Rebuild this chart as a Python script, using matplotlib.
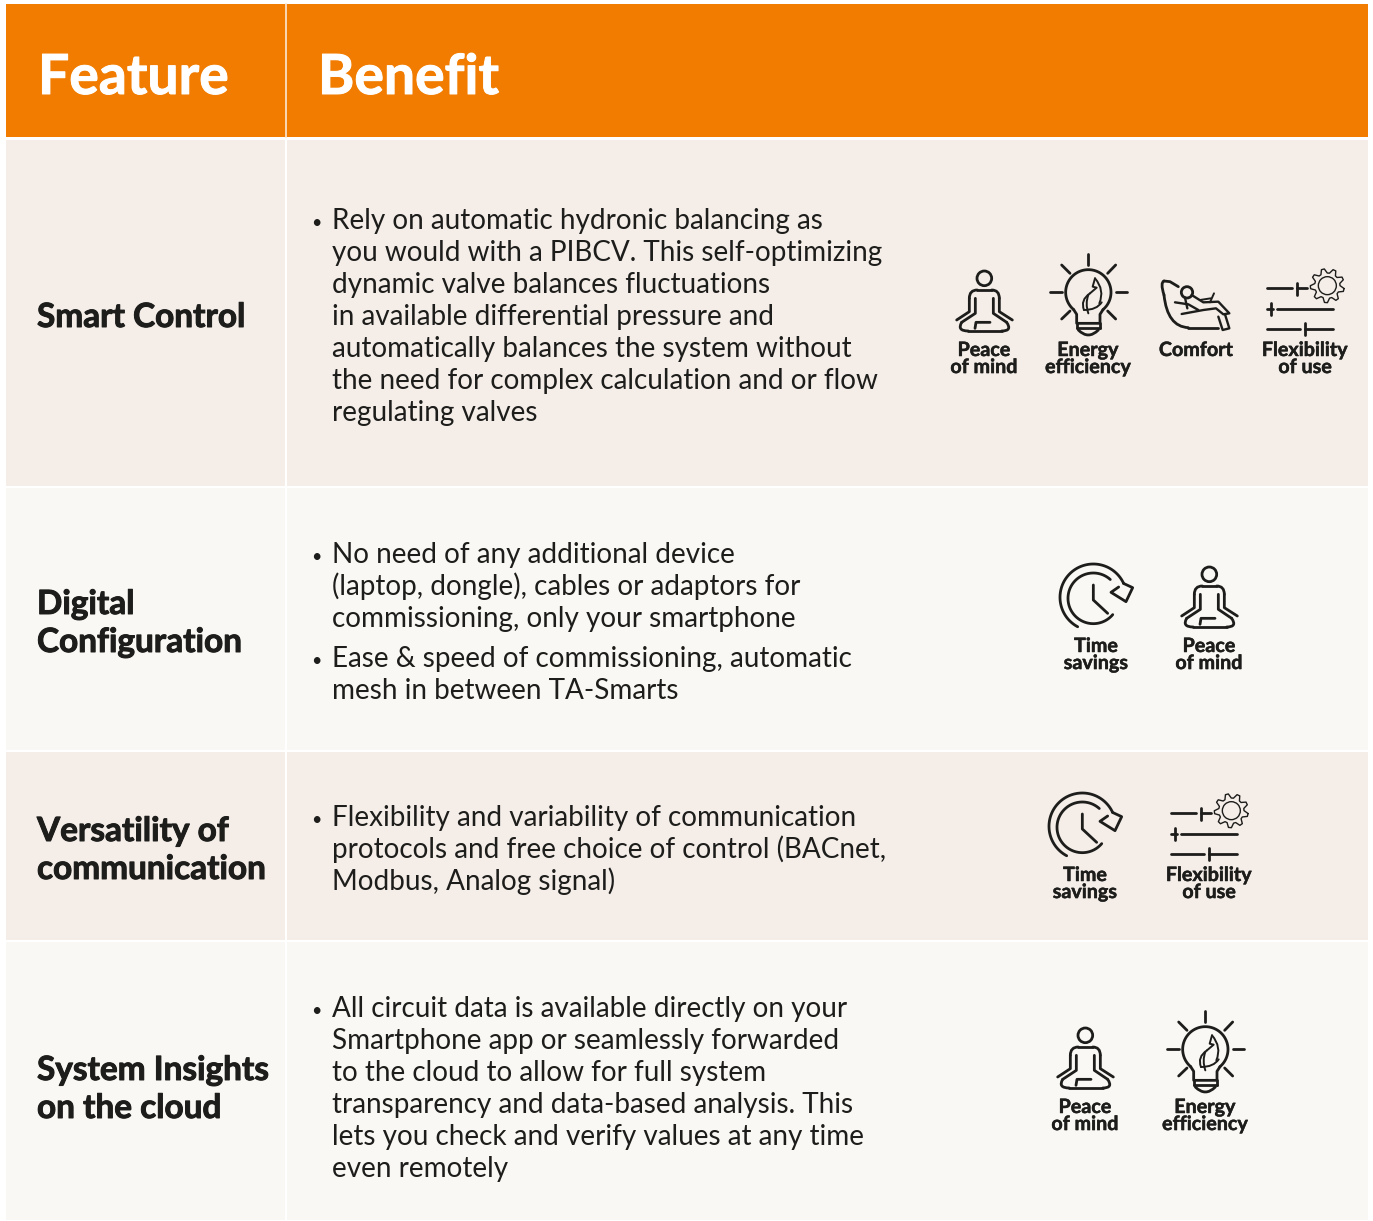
import numpy as np
import matplotlib
matplotlib.use("Agg")
import matplotlib.pyplot as plt
import matplotlib.patheffects as pe
from matplotlib.patches import Rectangle, Circle, PathPatch
from matplotlib.path import Path

W, H = 1373, 1221
ORANGE = "#F17C00"; ROW_A = "#F4EDE8"; ROW_B = "#FAF8F4"; INK = "#1D1D1B"
FONT = "Lato"

headers = ["Feature", "Benefit"]
feature_lines = [["Smart Control"], ["Digital", "Configuration"],
                 ["Versatility of", "communication"], ["System Insights", "on the cloud"]]
feature_baselines = [[327], [614, 652], [841, 879], [1080, 1118]]
benefit_bullets = [
    [["Rely on automatic hydronic balancing as", "you would with a PIBCV. This self-optimizing",
      "dynamic valve balances fluctuations", "in available differential pressure and",
      "automatically balances the system without", "the need for complex calculation and or flow",
      "regulating valves"]],
    [["No need of any additional device", "(laptop, dongle), cables or adaptors for",
      "commissioning, only your smartphone"],
     ["Ease & speed of commissioning, automatic", "mesh in between TA-Smarts"]],
    [["Flexibility and variability of communication", "protocols and free choice of control (BACnet,",
      "Modbus, Analog signal)"]],
    [["All circuit data is available directly on your", "Smartphone app or seamlessly forwarded",
      "to the cloud to allow for full system", "transparency and data-based analysis. This",
      "lets you check and verify values at any time", "even remotely"]],
]
bullet_baselines = [[229], [563, 667], [826], [1017]]
row_bounds = [(140, 486), (488, 750), (752, 940), (942, 1220)]
row_colors = [ROW_A, ROW_B, ROW_A, ROW_B]

labels = {"peace": ["Peace", "of mind"], "energy": ["Energy", "efficiency"],
          "comfort": ["Comfort"], "flex": ["Flexibility", "of use"], "time": ["Time", "savings"]}
# icon kind, label centre x, first label baseline
icon_rows = [("peace", 984, 356), ("energy", 1088, 356), ("comfort", 1196, 356), ("flex", 1305, 356),
             ("time", 1096, 652), ("peace", 1209, 652),
             ("time", 1085, 881), ("flex", 1209, 881),
             ("peace", 1085, 1113), ("energy", 1205, 1113)]

fig = plt.figure(figsize=(W / 100, H / 100), dpi=100, facecolor="white")
ax = fig.add_axes([0, 0, 1, 1])
ax.set_xlim(0, W); ax.set_ylim(H, 0); ax.axis("off")

ax.add_patch(Rectangle((6, 4), 1362, 133, fc=ORANGE, ec="none"))
ax.plot([286, 286], [4, 137], color="#FBE9D5", lw=1.2)
for (y0, y1), c in zip(row_bounds, row_colors):
    ax.add_patch(Rectangle((6, y0), 279, y1 - y0, fc=c, ec="none"))
    ax.add_patch(Rectangle((287, y0), 1081, y1 - y0, fc=c, ec="none"))


def heavy(color, w):
    return [pe.withStroke(linewidth=w, foreground=color)]


for name, x in zip(headers, (38, 318)):
    ax.text(x, 94, name, color="white", fontsize=39.8, fontfamily=FONT, fontweight="bold", va="baseline",
            path_effects=heavy("white", 0.7))

for lines, bases in zip(feature_lines, feature_baselines):
    for s, b in zip(lines, bases):
        ax.text(37, b, s, color=INK, fontsize=24, fontfamily=FONT, fontweight="bold", va="baseline",
                path_effects=heavy(INK, 0.7))

for bullets, starts in zip(benefit_bullets, bullet_baselines):
    for lines, start in zip(bullets, starts):
        ax.text(311, start - 1, "\u2022", color=INK, fontsize=13, fontfamily=FONT, va="baseline")
        for i, s in enumerate(lines):
            ax.text(332, start + 32 * i, s, color=INK, fontsize=20.1, fontfamily=FONT, va="baseline")


LW = 2.0


def stroke(pts, ox, oy, lw=LW, curve=False):
    p = np.asarray(pts, float) / 3
    if curve:
        codes = [Path.MOVETO] + [Path.CURVE3] * (len(p) - 1)
        ax.add_patch(PathPatch(Path(p + (ox, oy), codes), fc="none", ec=INK, lw=lw, capstyle="round", joinstyle="round"))
    else:
        ax.plot(p[:, 0] + ox, p[:, 1] + oy, color=INK, lw=lw, solid_capstyle="round", solid_joinstyle="round")


def circle(c, r, ox, oy, lw=LW):
    ax.add_patch(Circle((c[0] / 3 + ox, c[1] / 3 + oy), r / 3, fc="none", ec=INK, lw=lw))


def arc(c, r, a0, a1, ox, oy, lw=LW):
    t = np.radians(np.linspace(a0, a1, 80))
    stroke(np.c_[c[0] + r * np.cos(t), c[1] + r * np.sin(t)], ox, oy, lw)


def peace(ox, oy):
    circle((133, 100), 22, ox, oy)
    stroke([(50, 225), (88, 200), (88, 160)], ox, oy)
    stroke([(88, 160), (88, 135), (112, 135)], ox, oy, curve=True)
    stroke([(112, 135), (155, 135)], ox, oy)
    stroke([(155, 135), (178, 135), (178, 160)], ox, oy, curve=True)
    stroke([(178, 160), (178, 200), (217, 225)], ox, oy)
    stroke([(106, 160), (106, 205), (65, 232)], ox, oy)
    stroke([(65, 232), (50, 258), (85, 258)], ox, oy, curve=True)
    stroke([(85, 258), (185, 258)], ox, oy)
    stroke([(185, 258), (218, 258), (200, 232)], ox, oy, curve=True)
    stroke([(200, 232), (160, 205), (160, 160)], ox, oy)
    stroke([(105, 250), (108, 232), (150, 232)], ox, oy)


def energy(ox, oy):
    arc((445, 142), 68, 130, 410, ox, oy)
    stroke([(401, 194), (410, 208), (410, 235), (480, 235), (480, 208), (489, 194)], ox, oy)
    stroke([(410, 250), (480, 250)], ox, oy)
    stroke([(410, 235), (410, 250)], ox, oy)
    stroke([(480, 235), (480, 250)], ox, oy)
    stroke([(415, 255), (445, 285), (475, 255)], ox, oy, curve=True)
    for seg in [[(445, 28), (445, 60)], [(365, 60), (390, 85)], [(527, 60), (503, 85)],
                [(330, 142), (365, 142)], [(527, 142), (562, 142)],
                [(365, 222), (390, 198)], [(527, 222), (503, 198)]]:
        stroke(seg, ox, oy)
    stroke([(465, 100), (495, 135), (478, 175)], ox, oy, lw=1.4, curve=True)
    stroke([(465, 100), (458, 125), (470, 128), (450, 145)], ox, oy, lw=1.4)
    stroke([(450, 145), (420, 165), (432, 195)], ox, oy, lw=1.4, curve=True)
    stroke([(432, 195), (470, 195), (485, 172)], ox, oy, lw=1.4, curve=True)
    stroke([(445, 150), (435, 175), (445, 205)], ox, oy, lw=1.4, curve=True)


def comfort(ox, oy):
    stroke([(715, 125), (690, 110), (672, 108)], ox, oy)
    stroke([(672, 108), (660, 112), (672, 150)], ox, oy, curve=True)
    stroke([(672, 150), (682, 245), (745, 248)], ox, oy, curve=True)
    stroke([(745, 248), (835, 248)], ox, oy)
    circle((741, 142), 17, ox, oy)
    stroke([(755, 150), (790, 172), (835, 170), (868, 205), (850, 208), (828, 190), (790, 195), (725, 207)], ox, oy, lw=1.7)
    stroke([(705, 172), (745, 178), (775, 195)], ox, oy, lw=1.7)
    stroke([(735, 158), (742, 190)], ox, oy, lw=1.7)
    stroke([(835, 215), (848, 255), (868, 250), (855, 208)], ox, oy, lw=1.7)
    stroke([(810, 172), (822, 145)], ox, oy, lw=1.4)
    stroke([(780, 165), (812, 160)], ox, oy, lw=1.4)


def flex(ox, oy):
    for seg in [[(980, 130), (1055, 130)], [(1072, 115), (1072, 150)], [(1072, 130), (1100, 130)],
                [(980, 192), (1000, 192)], [(993, 175), (993, 210)], [(1010, 192), (1178, 192)],
                [(980, 252), (1080, 252)], [(1095, 235), (1095, 270)], [(1095, 252), (1178, 252)]]:
        stroke(seg, ox, oy)
    c = np.array((1162, 122))
    circle(c, 27, ox, oy, lw=1.0)
    n = 9
    ang = np.linspace(0, 2 * np.pi, n * 4, endpoint=False) + 0.17
    rad = np.tile([51, 51, 38, 38], n)
    pts = np.c_[c[0] + rad * np.cos(ang), c[1] + rad * np.sin(ang)]
    stroke(np.r_[pts, pts[:1]], ox, oy, lw=1.0)


def clock(ox, oy):
    arc((160, 130), 76, 40, 312, ox, oy)
    arc((160, 127), 100, 118, 335, ox, oy)
    stroke([(250, 85), (278, 98), (258, 140), (213, 112), (236, 96)], ox, oy)
    stroke([(160, 90), (160, 135), (203, 175)], ox, oy)


def draw_icon(kind, cx, base):
    y = base - 356
    if kind == "peace":
        peace(940 + cx - 984, 245 + y)
    elif kind == "energy":
        energy(940 + cx - 1088, 245 + y)
    elif kind == "comfort":
        comfort(940 + cx - 1196, 245 + y)
    elif kind == "flex":
        flex(940 + cx - 1305, 245 + y)
    else:
        clock(1040 + cx - 1096, 555 + base - 652)


for kind, cx, base in icon_rows:
    draw_icon(kind, cx, base)
    ax.annotate("\n".join(labels[kind]), (cx, base), color=INK, fontsize=14.2, fontfamily=FONT,
                fontweight="bold", ha="center", va="top", ma="center", linespacing=0.815,
                xytext=(0, 16 * 72 / 100), textcoords="offset points",
                path_effects=heavy(INK, 0.35))

fig.savefig("out.png", dpi=100, facecolor="white")
